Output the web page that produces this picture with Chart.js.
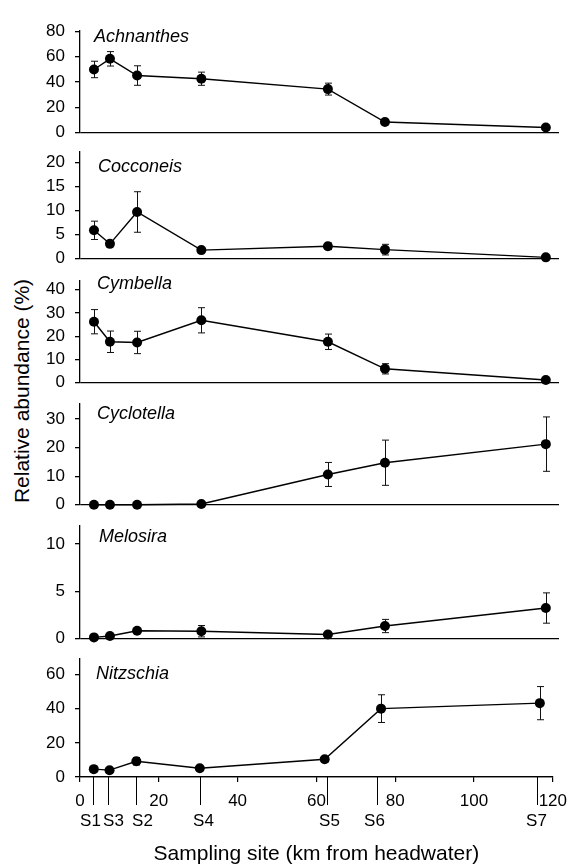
<!DOCTYPE html>
<html>
<head>
<meta charset="utf-8">
<script src="https://cdn.jsdelivr.net/npm/chart.js@4.4.0/dist/chart.umd.min.js"></script>
<style>
  html, body { margin: 0; padding: 0; background: #fff; }
  #wrap { position: relative; width: 576px; height: 865px; overflow: hidden;
          font-family: "Liberation Sans", Arial, sans-serif; }
  #wrap canvas { position: absolute; left: 0; }
  #ytitle { position: absolute; left: 22px; top: 391px; white-space: nowrap; color: #000;
            font-size: 21px; transform: translate(-50%, -50%) rotate(-90deg); }
</style>
</head>
<body>
<div id="wrap">
  <div id="ytitle">Relative abundance (%)</div>
</div>
<script>
'use strict';

// ─────────────────────────────────────────────
// DATA
// ─────────────────────────────────────────────

const pointKm   = [3.5, 7.5, 14.3, 30.4, 62.1, 76.4, 116.7];
const siteKm    = [3.2, 7.2, 14.2, 30.4, 62.7, 75.4, 116.1];
const siteNames = ['S1', 'S3', 'S2', 'S4', 'S5', 'S6', 'S7'];
const xTicks    = [0, 20, 40, 60, 80, 100, 120];

const taxa = ['Achnanthes', 'Cocconeis', 'Cymbella', 'Cyclotella', 'Melosira', 'Nitzschia'];

const achnanthes    = [50.0, 58.4, 45.2, 42.7, 34.5, 8.5, 4.2];
const achnanthesErr = [6.5, 5.7, 7.7, 5.2, 4.7, 0, 0];
const cocconeis     = [5.9, 3.1, 9.7, 1.8, 2.6, 1.9, 0.3];
const cocconeisErr  = [1.9, 0, 4.2, 0, 0.7, 1.1, 0];
const cymbella      = [26.2, 17.6, 17.3, 26.8, 17.6, 6.0, 1.2];
const cymbellaErr   = [5.2, 4.6, 4.8, 5.4, 3.3, 2.2, 0];
const cyclotella    = [0, 0, 0, 0.3, 10.6, 14.7, 21.2];
const cyclotellaErr = [0, 0, 0, 0, 4.2, 7.9, 9.5];
const melosira      = [0.15, 0.3, 0.85, 0.8, 0.45, 1.35, 3.25];
const melosiraErr   = [0, 0, 0, 0.6, 0, 0.7, 1.6];
const nitzschia     = [4.6, 4.0, 9.2, 5.1, 10.4, 40.0, 43.2];
const nitzschiaErr  = [0, 0, 2.2, 0, 1.5, 8.1, 9.7];

const yTicks = [
  [0, 20, 40, 60, 80],
  [0, 5, 10, 15, 20],
  [0, 10, 20, 30, 40],
  [0, 10, 20, 30],
  [0, 5, 10],
  [0, 20, 40, 60],
];
const yMax = [81, 22.3, 44, 35.5, 12, 69.5];

const series = [achnanthes, cocconeis, cymbella, cyclotella, melosira, nitzschia];
const errors = [achnanthesErr, cocconeisErr, cymbellaErr, cyclotellaErr, melosiraErr, nitzschiaErr];

// ─────────────────────────────────────────────
// LAYOUT (pixels)
// ─────────────────────────────────────────────

const W = 576, H = 865, PAD = 12;
const panelBox = [
  { top: 22,  bottom: 141, labelX: 94, labelY: 37 },
  { top: 143, bottom: 267, labelX: 98, labelY: 167 },
  { top: 272, bottom: 391, labelX: 97, labelY: 284 },
  { top: 395, bottom: 513, labelX: 97, labelY: 414 },
  { top: 517, bottom: 647, labelX: 99, labelY: 537 },
  { top: 650, bottom: 777, labelX: 96, labelY: 674 },
];
const siteLabelShift = [-3, 5, 6, 3, 2, -3, -1];

const FONT = '"Liberation Sans", Arial, sans-serif';
Chart.defaults.font.family = FONT;
Chart.defaults.color = '#000';

// ─────────────────────────────────────────────
// PLUGINS
// ─────────────────────────────────────────────

const errorBars = {
  id: 'errorBars',
  beforeDatasetsDraw(chart, args, opts) {
    const { ctx, scales: { x, y } } = chart;
    ctx.save();
    ctx.strokeStyle = '#111';
    ctx.lineWidth = 1;
    pointKm.forEach((km, j) => {
      const e = opts.errors[j];
      if (!e) return;
      const v  = opts.values[j];
      const px = Math.round(x.getPixelForValue(km)) + 0.5;
      const y1 = y.getPixelForValue(v + e);
      const y2 = y.getPixelForValue(Math.max(v - e, 0));
      ctx.beginPath();
      ctx.moveTo(px, y1); ctx.lineTo(px, y2);
      ctx.moveTo(px - 3.5, y1); ctx.lineTo(px + 3.5, y1);
      ctx.moveTo(px - 3.5, y2); ctx.lineTo(px + 3.5, y2);
      ctx.stroke();
    });
    ctx.restore();
  }
};

const taxonLabel = {
  id: 'taxonLabel',
  afterDraw(chart, args, opts) {
    const { ctx } = chart;
    ctx.save();
    ctx.font = 'italic 18px ' + FONT;
    ctx.fillStyle = '#000';
    ctx.textBaseline = 'middle';
    ctx.fillText(opts.text, opts.x, opts.y);
    ctx.restore();
  }
};

const siteMarks = {
  id: 'siteMarks',
  afterDraw(chart, args, opts) {
    if (!opts.show) return;
    const { ctx, chartArea, scales: { x } } = chart;
    ctx.save();
    ctx.strokeStyle = '#000';
    ctx.lineWidth = 1;
    ctx.fillStyle = '#000';
    ctx.font = '17px ' + FONT;
    ctx.textAlign = 'center';
    ctx.textBaseline = 'middle';
    siteKm.forEach((km, j) => {
      const px = Math.round(x.getPixelForValue(km)) + 0.5;
      ctx.beginPath();
      ctx.moveTo(px, chartArea.bottom);
      ctx.lineTo(px, chartArea.bottom + 28);
      ctx.stroke();
      ctx.fillText(siteNames[j], px + siteLabelShift[j], chartArea.bottom + 44);
    });
    ctx.restore();
  }
};

// ─────────────────────────────────────────────
// PANELS
// ─────────────────────────────────────────────

function makePanel(i) {
  const box    = panelBox[i];
  const isLast = i === taxa.length - 1;
  const top    = box.top - PAD;
  const height = isLast ? H - top : (box.bottom - box.top) + 2 * PAD;

  const canvas = document.createElement('canvas');
  canvas.width = W;
  canvas.height = height;
  canvas.style.top = top + 'px';
  document.getElementById('wrap').appendChild(canvas);

  new Chart(canvas, {
    type: 'line',
    data: {
      datasets: [{
        data: pointKm.map((km, j) => ({ x: km, y: series[i][j] })),
        borderColor: '#000',
        borderWidth: 1.4,
        backgroundColor: '#000',
        pointBackgroundColor: '#000',
        pointBorderColor: '#000',
        pointBorderWidth: 0,
        pointRadius: 5,
        tension: 0,
        clip: false,
      }]
    },
    options: {
      responsive: false,
      animation: false,
      events: [],
      layout: { padding: { top: PAD, bottom: isLast ? 0 : PAD, left: 0, right: 17 } },
      plugins: {
        legend: { display: false },
        tooltip: { enabled: false },
        errorBars: { values: series[i], errors: errors[i] },
        taxonLabel: { text: taxa[i], x: box.labelX, y: box.labelY - top },
        siteMarks: { show: isLast },
      },
      scales: {
        x: {
          type: 'linear',
          min: 0,
          max: 120,
          display: isLast,
          afterBuildTicks: s => { s.ticks = xTicks.map(v => ({ value: v })); },
          afterFit: s => { if (isLast) s.height = H - box.bottom; },
          ticks: { font: { size: 17 }, padding: 9, maxRotation: 0, autoSkip: false },
          grid: { drawOnChartArea: false, tickLength: 5, color: '#000', lineWidth: 1.2 },
          border: { color: '#000', width: 1.3 },
          title: {
            display: true,
            text: 'Sampling site (km from headwater)',
            font: { size: 21, lineHeight: 1 },
            padding: 0,
          },
        },
        y: {
          min: 0,
          max: yMax[i],
          afterBuildTicks: s => { s.ticks = yTicks[i].map(v => ({ value: v })); },
          afterFit: s => { s.width = 80; },
          ticks: { font: { size: 17 }, padding: 10 },
          grid: {
            color: c => (c.tick && c.tick.value === 0 ? '#000' : 'rgba(0,0,0,0)'),
            tickColor: '#000',
            tickLength: 5,
            lineWidth: 1.3,
          },
          border: { color: '#000', width: 1.3 },
        }
      }
    },
    plugins: [errorBars, taxonLabel, siteMarks],
  });
}

taxa.forEach((t, i) => makePanel(i));
</script>
</body>
</html>
